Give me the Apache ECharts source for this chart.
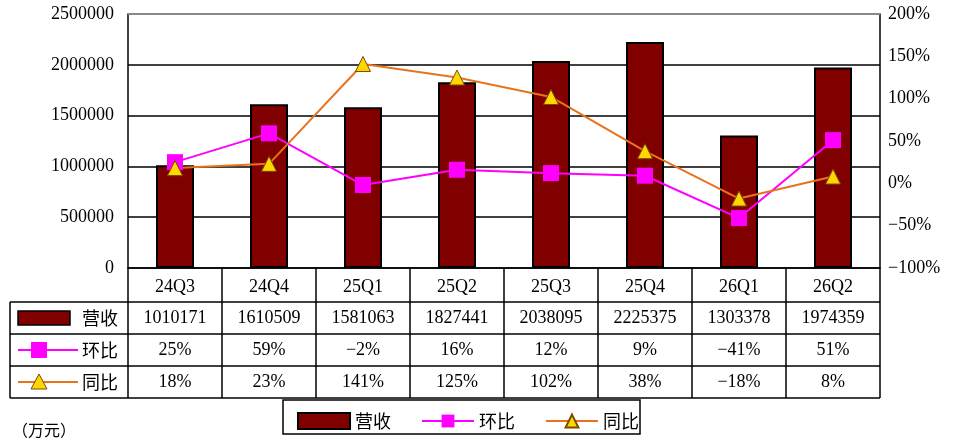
<!DOCTYPE html>
<html><head><meta charset="utf-8">
<script src="https://cdn.jsdelivr.net/npm/echarts@6/dist/echarts.min.js"></script>
<style>body{margin:0;background:#fff}#c{width:956px;height:448px}</style>
</head><body><div id="c"></div>
<script>
var quarters = ['24Q3','24Q4','25Q1','25Q2','25Q3','25Q4','26Q1','26Q2'];
var revenue = [1010171,1610509,1581063,1827441,2038095,2225375,1303378,1974359];
var qoq = [25,59,-2,16,12,9,-41,51];
var yoy = [18,23,141,125,102,38,-18,8];

var chart = echarts.init(document.getElementById('c'));
var L = 128, R = 880, T = 14, B = 268, cw = (R - L) / 8, tl = 10;
var serif = 'Liberation Serif, DejaVu Serif, serif';
var cjk = 'Noto Sans CJK SC';
var g = [];
function line(x1,y1,x2,y2){ g.push({type:'line',shape:{x1:x1,y1:y1,x2:x2,y2:y2},style:{stroke:'#000',lineWidth:1.5}}); }
for (var i = 0; i <= 8; i++) line(L + cw*i, B, L + cw*i, 398);
line(tl, 302, tl, 398);
[302,334,366,398].forEach(function(y){ line(tl, y, R, y); });
g.push({type:'line',z:100,shape:{x1:L,y1:T,x2:R,y2:T},style:{stroke:'#888',lineWidth:2}});
var rows = [
  {name:'营收', vals: revenue.map(String), y:318},
  {name:'环比', vals: qoq.map(function(v){return v+'%';}), y:350},
  {name:'同比', vals: yoy.map(function(v){return v+'%';}), y:382}
];
rows.forEach(function(r, k){
  g.push({type:'text',x:82,y:r.y,style:{text:r.name,font:'18px '+cjk,fill:'#000',verticalAlign:'middle'}});
  r.vals.forEach(function(v,i){
    g.push({type:'text',x:L+cw*i+cw/2,y:r.y,style:{text:v.replace('-','−'),font:'18px '+serif,fill:'#000',align:'center',verticalAlign:'middle'}});
  });
});
g.push({type:'rect',shape:{x:18,y:311,width:52,height:14},style:{fill:'#800000',stroke:'#000',lineWidth:1.5}});
g.push({type:'line',shape:{x1:18,y1:350,x2:78,y2:350},style:{stroke:'#ff00ff',lineWidth:2}});
g.push({type:'rect',shape:{x:31,y:342,width:16,height:16},style:{fill:'#ff00ff'}});
g.push({type:'line',shape:{x1:18,y1:382,x2:78,y2:382},style:{stroke:'#e8731f',lineWidth:2}});
g.push({type:'polygon',shape:{points:[[39,374],[31,389],[47,389]]},style:{fill:'#ffd700',stroke:'#7a4a00',lineWidth:1}});
g.push({type:'text',x:12,y:430,style:{text:'（万元）',font:'16px '+cjk,fill:'#000',verticalAlign:'middle'}});
g.push({type:'rect',shape:{x:283,y:400,width:357,height:34},style:{fill:'none',stroke:'#000',lineWidth:1.5}});

chart.setOption({
  animation:false,
  grid:{left:L,right:956-R,top:T,bottom:448-B},
  legend:{left:292,top:407,itemGap:30,itemWidth:52,itemHeight:16,
    textStyle:{fontFamily:cjk,fontSize:18,color:'#000'},
    data:[{name:'营收',icon:'rect'},{name:'环比'},{name:'同比'}]},
  xAxis:{type:'category',data:quarters,
    axisLine:{lineStyle:{color:'#000',width:1.5}},axisTick:{show:false},
    axisLabel:{margin:10,fontFamily:serif,fontSize:18,color:'#000'}},
  yAxis:[
    {type:'value',min:0,max:2500000,interval:500000,
     axisLine:{show:true,lineStyle:{color:'#000',width:1.5}},axisTick:{show:false},
     splitLine:{lineStyle:{color:'#000',width:1.5}},
     axisLabel:{fontFamily:serif,fontSize:18,color:'#000',margin:14,
       formatter:function(v){return String(v);}}},
    {type:'value',min:-100,max:200,interval:50,
     axisLine:{show:true,lineStyle:{color:'#000',width:1.5}},axisTick:{show:false},
     splitLine:{show:false},
     axisLabel:{fontFamily:serif,fontSize:18,color:'#000',margin:8,
       formatter:function(v){return String(v).replace('-','−')+'%';}}}
  ],
  series:[
    {name:'营收',type:'bar',data:revenue,barWidth:38,
     itemStyle:{color:'#800000',borderColor:'#000',borderWidth:2}},
    {name:'环比',type:'line',yAxisIndex:1,data:qoq,symbol:'rect',symbolSize:16,
     lineStyle:{color:'#ff00ff',width:2},itemStyle:{color:'#ff00ff'}},
    {name:'同比',type:'line',yAxisIndex:1,data:yoy,symbol:'triangle',symbolSize:15,
     lineStyle:{color:'#e8731f',width:2},itemStyle:{color:'#ffd700',borderColor:'#7a4a00',borderWidth:1}}
  ],
  graphic:g
});
</script></body></html>
